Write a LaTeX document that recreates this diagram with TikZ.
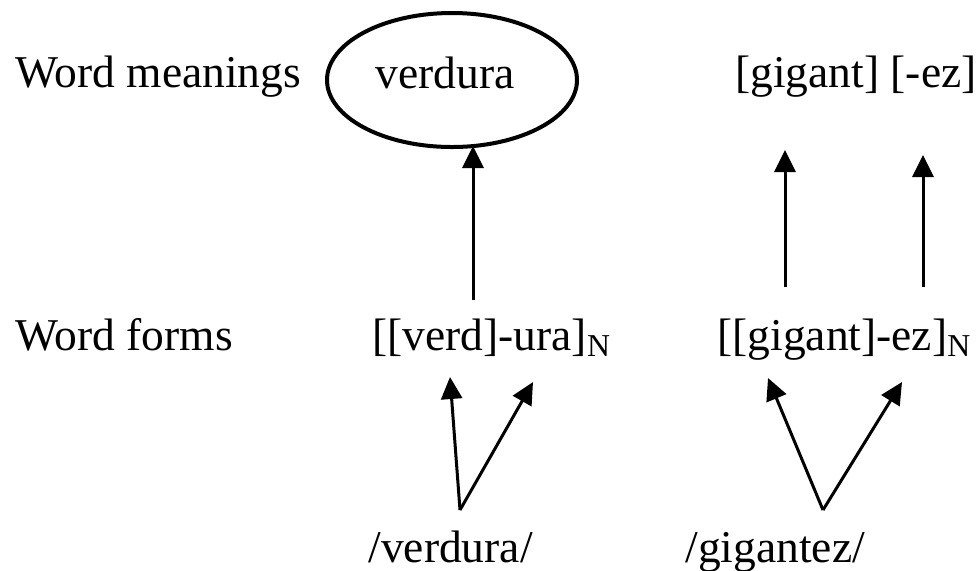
\documentclass[tikz,border=0pt]{standalone}
\usepackage{fontspec}
\setmainfont{Liberation Serif}
\usepackage{tikz}
\usetikzlibrary{arrows.meta,positioning,calc}

\begin{document}
\begin{tikzpicture}[x=0.5pt,y=-0.5pt,
  txt/.style={inner sep=0pt,anchor=base west,font=\fontsize{22.75}{27}\selectfont},
  arr/.style={line width=1.5pt,-{Triangle[length=11pt,width=10.5pt]}}]
\useasboundingbox (0,0) rectangle (980,570);
% Row labels
\node[txt] (lmean) at (15,87) {Word meanings};
\node[txt] (lform) at (15,350) {Word forms};
% Meanings
\draw[line width=2pt] (452,80) ellipse [x radius=125, y radius=67];
\coordinate (meanbot) at (473,146);
\node[txt] (vmean) at (375,88) {verdura};
\node[txt] (gmean) at (735,87) {[gigant] [-ez]};
% Forms
\node[txt] (vform) at (372,350) {[[verd]-ura]\textsubscript{N}};
\node[txt] (gform) at (717,350) {[[gigant]-ez]\textsubscript{N}};
% Sounds
\node[txt] (vsound) at (368,562) {/verdura/};
\node[txt] (gsound) at (685,562) {/gigantez/};
% form -> meaning
\coordinate (vup) at (473,300);
\coordinate (gup1) at (785,287);
\coordinate (gtop1) at (785,150);
\coordinate (gup2) at (923,287);
\coordinate (gtop2) at (923,155);
\draw[arr] (vup) -- (meanbot);
\draw[arr] (gup1) -- (gtop1);
\draw[arr] (gup2) -- (gtop2);
% sound -> form
\coordinate (vroot) at (460,510);
\coordinate (vtip1) at (450,377);
\coordinate (vtip2) at (533,382);
\coordinate (groot) at (823,510);
\coordinate (gtip1) at (768,378);
\coordinate (gtip2) at (902,382);
\foreach \r/\t in {vroot/vtip1,vroot/vtip2,groot/gtip1,groot/gtip2}
  \draw[arr] (\r) -- (\t);
\end{tikzpicture}
\end{document}
